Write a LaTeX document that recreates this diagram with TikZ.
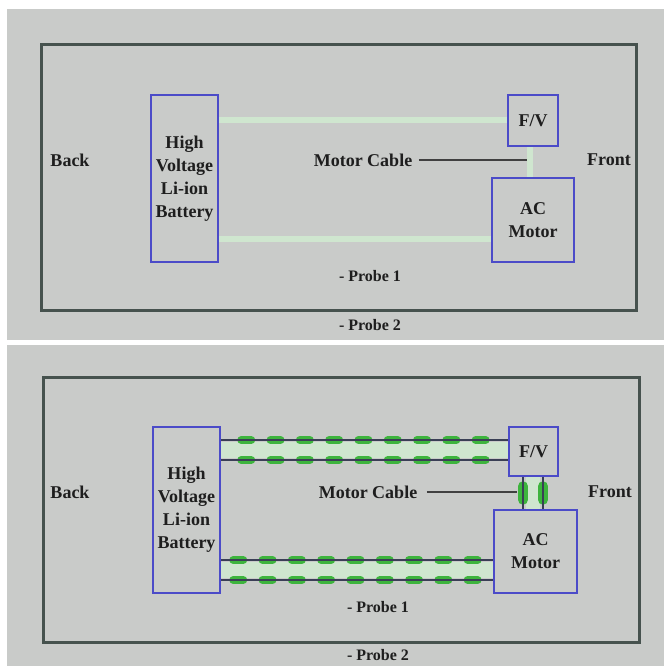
\documentclass[tikz,border=0pt]{standalone}
\usepackage{fontspec}
\setmainfont{Liberation Serif}
\usetikzlibrary{backgrounds}
\definecolor{bgc}{HTML}{C9CBC9}
\definecolor{framec}{HTML}{46524E}
\definecolor{boxc}{HTML}{4B4BC8}
\definecolor{pale}{HTML}{CFE6CF}
\definecolor{gdc}{HTML}{3DB43D}
\definecolor{wirec}{HTML}{3A3F55}
\definecolor{txt}{HTML}{1E1E1E}
\definecolor{leadc}{HTML}{404040}
\begin{document}
\begin{tikzpicture}[x=1pt,y=-1pt,
  every node/.style={font=\bfseries\fontsize{18}{23}\selectfont, text=txt},
  unit/.style={draw=boxc, line width=2.5pt, fill=bgc, inner sep=0pt, align=center},
  frame/.style={draw=framec, line width=3pt},
  paleline/.style={draw=pale, line width=6pt},
  paleband/.style={draw=pale, line width=16pt},
  wire/.style={draw=wirec, line width=1.4pt},
  gdash/.style={draw=gdc, line width=8pt, line cap=round, dash pattern=on 10pt off 19.3pt},
  gblob/.style={draw=gdc, line width=10pt, line cap=round},
  lead/.style={draw=leadc, line width=2.2pt},
  probe/.style={font=\bfseries\fontsize{16}{20}\selectfont},
]
\useasboundingbox (0,0) rectangle (664,666);
\begin{pgfonlayer}{background}
  \fill[white] (0,0) rectangle (664,666);
  \fill[bgc] (7,9) rectangle (664,340);
  \fill[bgc] (7,345) rectangle (664,666);
  \draw[frame] (41,45) rectangle (636,310);
  \draw[frame] (43,377) rectangle (639,642);
\end{pgfonlayer}

% ---------- top panel ----------
\node[unit, minimum width=67pt, minimum height=167pt] (batA) at (184.5,178.5) {High\\Voltage\\Li-ion\\Battery};
\node[unit, minimum width=50pt, minimum height=51pt] (fvA) at (533,120.5) {F/V};
\node[unit, minimum width=82pt, minimum height=84pt] (motA) at (533,220) {AC\\Motor};
\node (backA) at (70,160) {Back};
\node (frontA) at (609,160) {Front};
\node (mcA) at (363,160) {Motor Cable};
\coordinate (mcAend) at (527,160);
\node[probe] (p1A) at (370,276) {- Probe 1};
\node[probe] (p2A) at (370,325) {- Probe 2};

\begin{pgfonlayer}{background}
  \draw[paleline] (batA.east |- fvA.west) -- (fvA.west);
  \draw[paleline] ([yshift=-19pt]batA.east |- motA.west) -- ([yshift=-19pt]motA.west);
  \draw[paleline] ([xshift=-3pt]fvA.south) -- ([xshift=-3pt]fvA.south |- motA.north);
\end{pgfonlayer}
\draw[lead, shorten <=3pt] (mcA.east) -- (mcAend);

% ---------- bottom panel ----------
\node[unit, minimum width=67pt, minimum height=166pt] (batB) at (186.5,510) {High\\Voltage\\Li-ion\\Battery};
\node[unit, minimum width=49pt, minimum height=49pt] (fvB) at (533.5,451.5) {F/V};
\node[unit, minimum width=83pt, minimum height=83pt] (motB) at (535.5,551.5) {AC\\Motor};
\node (backB) at (70,492) {Back};
\node (frontB) at (610,492) {Front};
\node (mcB) at (368,492) {Motor Cable};
\coordinate (mcBend) at (517,492);
\node[probe] (p1B) at (378,607) {- Probe 1};
\node[probe] (p2B) at (378,655) {- Probe 2};

\begin{pgfonlayer}{background}
  % upper pair (battery -> F/V)
  \draw[paleband] ([yshift=1.5pt]batB.east |- fvB.west) -- ([yshift=1.5pt]fvB.west);
  \draw[gdash, shorten <=20pt, shorten >=13pt] ([yshift=11.5pt]batB.east |- fvB.west) -- ([yshift=11.5pt]fvB.west);
  \draw[gdash, shorten <=20pt, shorten >=13pt] ([yshift=-8.5pt]batB.east |- fvB.west) -- ([yshift=-8.5pt]fvB.west);
  \draw[wire] ([yshift=11.5pt]batB.east |- fvB.west) -- ([yshift=11.5pt]fvB.west);
  \draw[wire] ([yshift=-8.5pt]batB.east |- fvB.west) -- ([yshift=-8.5pt]fvB.west);
  % lower pair (battery -> motor)
  \draw[paleband] ([yshift=-18.5pt]batB.east |- motB.west) -- ([yshift=-18.5pt]motB.west);
  \draw[gdash, shorten <=12pt, shorten >=5pt] ([yshift=-8.5pt]batB.east |- motB.west) -- ([yshift=-8.5pt]motB.west);
  \draw[gdash, shorten <=12pt, shorten >=5pt] ([yshift=-28.5pt]batB.east |- motB.west) -- ([yshift=-28.5pt]motB.west);
  \draw[wire] ([yshift=-8.5pt]batB.east |- motB.west) -- ([yshift=-8.5pt]motB.west);
  \draw[wire] ([yshift=-28.5pt]batB.east |- motB.west) -- ([yshift=-28.5pt]motB.west);
  % vertical pair (F/V -> motor)
  \draw[paleband, line width=14pt] ([xshift=-0.5pt]fvB.south) -- ([xshift=-0.5pt]fvB.south |- motB.north);
  \draw[gblob, shorten <=9pt, shorten >=9pt] ([xshift=-10.5pt]fvB.south) -- ([xshift=-10.5pt]fvB.south |- motB.north);
  \draw[gblob, shorten <=9pt, shorten >=9pt] ([xshift=9.5pt]fvB.south) -- ([xshift=9.5pt]fvB.south |- motB.north);
  \draw[wire] ([xshift=-10.5pt]fvB.south) -- ([xshift=-10.5pt]fvB.south |- motB.north);
  \draw[wire] ([xshift=9.5pt]fvB.south) -- ([xshift=9.5pt]fvB.south |- motB.north);
\end{pgfonlayer}
\draw[lead, line width=1.8pt, shorten <=6pt] (mcB.east) -- (mcBend);
\end{tikzpicture}
\end{document}
